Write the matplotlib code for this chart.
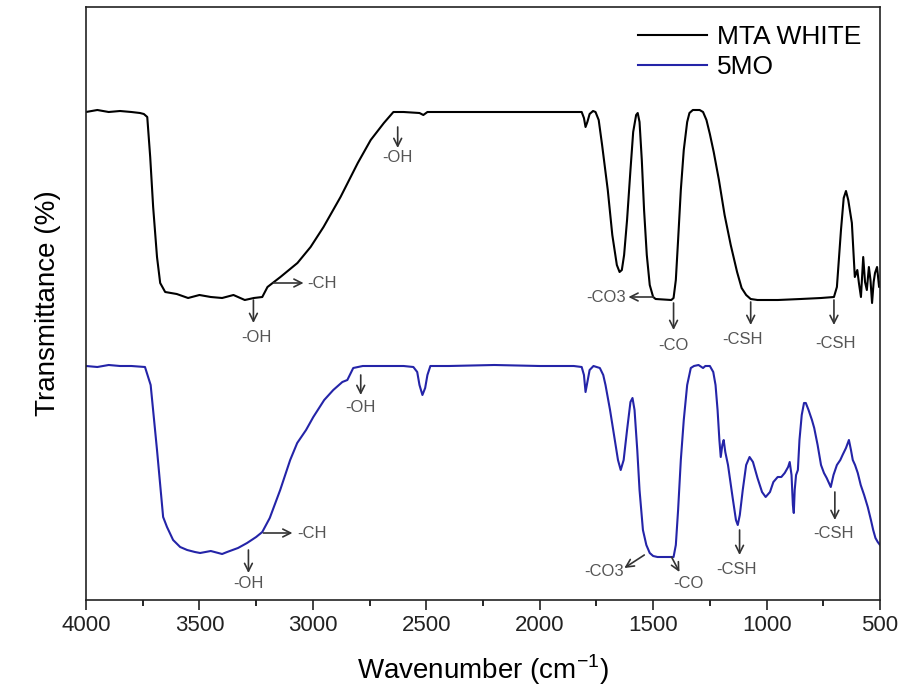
import matplotlib
matplotlib.use("Agg")
import matplotlib.pyplot as plt
from matplotlib.ticker import MultipleLocator

plt.rcParams['font.family'] = ['Liberation Sans', 'DejaVu Sans']

# ---- data: wavenumber (cm-1) and transmittance (arbitrary units) ----
mta_wn = [4000, 3950, 3900, 3850, 3800, 3762, 3745, 3730, 3717, 3704, 3687, 3673, 3651,
          3600, 3550, 3500, 3450, 3400, 3350, 3300, 3260, 3223, 3200, 3143, 3068, 3010,
          2953, 2878, 2802, 2745, 2687, 2645, 2600, 2530, 2513, 2495, 2400, 2200, 2000,
          1850, 1815, 1805, 1798, 1790, 1780, 1765, 1754, 1740, 1725, 1700, 1680, 1660,
          1648, 1638, 1628, 1615, 1600, 1588, 1575, 1568, 1560, 1550, 1540, 1528, 1515,
          1500, 1489, 1420, 1410, 1400, 1390, 1378, 1365, 1350, 1340, 1325, 1295, 1280,
          1265, 1250, 1233, 1210, 1185, 1158, 1130, 1110, 1090, 1070, 1040, 950, 850,
          760, 703, 690, 672, 660, 650, 640, 624, 611, 600, 593, 584, 574, 566, 558, 549,
          542, 535, 528, 522, 513, 504, 500]
mta_t = [488, 490, 488, 489, 488, 487, 486, 483, 443, 393, 343, 317, 308,
         306, 302, 305, 303, 302, 305, 300, 302, 303, 313, 323, 337, 353,
         373, 403, 437, 460, 477, 488, 488, 487, 485, 488, 488, 488, 488,
         488, 488, 482, 473, 478, 486, 489, 488, 480, 455, 410, 365, 335,
         328, 330, 345, 380, 430, 468, 485, 487, 478, 440, 390, 345, 315,
         303, 301, 300, 302, 320, 360, 410, 450, 478, 487, 490, 490, 488,
         480, 466, 448, 420, 385, 355, 328, 312, 305, 301, 300, 300, 301,
         302, 303, 313, 370, 402, 409, 400, 377, 323, 330, 317, 303, 343, 318, 310, 333,
         320, 297, 318, 327, 333, 313, 318]

mo_wn = [4000, 3950, 3900, 3850, 3800, 3740, 3715, 3687, 3660, 3643, 3616, 3585, 3554,
         3520, 3497, 3450, 3400, 3378, 3330, 3290, 3250, 3223, 3190, 3144, 3100, 3069,
         3030, 2998, 2950, 2910, 2870, 2848, 2835, 2822, 2780, 2700, 2600, 2557, 2540,
         2530, 2517, 2505, 2495, 2482, 2400, 2200, 2000, 1850, 1815, 1805, 1798, 1790,
         1780, 1763, 1735, 1720, 1710, 1690, 1674, 1655, 1643, 1630, 1615, 1600, 1591,
         1582, 1570, 1560, 1545, 1530, 1515, 1500, 1481, 1410, 1400, 1390, 1378, 1365,
         1350, 1334, 1320, 1300, 1280, 1270, 1250, 1235, 1225, 1216, 1208, 1202, 1195,
         1189, 1182, 1170, 1150, 1135, 1127, 1118, 1105, 1090, 1075, 1060, 1040, 1020,
         1004, 985, 970, 951, 935, 920, 905, 898, 890, 884, 880, 876, 870, 862, 855,
         845, 835, 827, 815, 800, 790, 775, 760, 747, 735, 725, 717, 705, 690, 675,
         665, 650, 637, 628, 620, 610, 598, 585, 570, 554, 540, 530, 520, 510, 500]
mo_t = [234, 233, 235, 234, 234, 233, 215, 150, 83, 73, 60, 53, 50,
        48, 47, 49, 46, 48, 52, 57, 63, 68, 82, 110, 140, 157,
        170, 183, 200, 210, 218, 220, 226, 232, 234, 234, 234, 233, 228,
        215, 205, 212, 225, 234, 234, 235, 234, 234, 233, 225, 208, 218,
        230, 234, 232, 225, 215, 190, 167, 140, 130, 140, 170, 198, 202,
        190, 150, 110, 70, 55, 47, 44, 43, 43, 55, 90, 140, 180,
        215, 232, 234, 235, 232, 234, 234, 228, 215, 190, 160, 143, 155,
        160, 148, 135, 103, 80, 75, 85, 110, 135, 143, 138, 122, 108,
        103, 108, 118, 123, 123, 127, 133, 138, 125, 95, 87, 110, 125, 130, 160,
        185, 197, 197, 190, 180, 172, 155, 135, 127, 122, 117, 113, 125, 135, 140,
        145, 152, 160, 150, 140, 135, 127, 115, 105, 93, 80, 70, 62, 58, 55]

series_labels = ["MTA WHITE", "5MO"]
x_ticks = [4000, 3500, 3000, 2500, 2000, 1500, 1000, 500]

# annotations: (label, arrow tail (wn, T), arrow head (wn, T), text pos (wn, T), ha, va)
annotations = [
    ("-OH",  (3262, 300), (3262, 277), (3249, 263), "center", "center"),
    ("-CH",  (3174, 317), (3041, 317), (3023, 317), "left", "center"),
    ("-OH",  (2626, 473), (2626, 452), (2626, 443), "center", "center"),
    ("-CO3", (1499, 303), (1609, 303), (1620, 303), "right", "center"),
    ("-CO",  (1410, 297), (1410, 270), (1410, 255), "center", "center"),
    ("-CSH", (1070, 298), (1070, 275), (1106, 260), "center", "center"),
    ("-CSH", (703, 300), (703, 275), (695, 257), "center", "center"),
    ("-OH",  (3284, 50), (3284, 27), (3284, 17), "center", "center"),
    ("-CH",  (3218, 67), (3090, 67), (3068, 67), "left", "center"),
    ("-OH",  (2789, 225), (2789, 205), (2789, 193), "center", "center"),
    ("-CO3", (1539, 45), (1627, 32), (1631, 28), "right", "center"),
    ("-CO",  (1419, 43), (1384, 28), (1344, 17), "center", "center"),
    ("-CSH", (1119, 70), (1119, 45), (1132, 30), "center", "center"),
    ("-CSH", (699, 108), (699, 80), (703, 67), "center", "center"),
]

fig = plt.figure(figsize=(9.04, 6.99), dpi=100)
ax = fig.add_axes([86/904, 1-600/699, (880-86)/904, (600-7)/699])

ax.plot(mta_wn, mta_t, color="black", lw=1.5, label=series_labels[0])
ax.plot(mo_wn, mo_t, color="#2424a8", lw=1.5, label=series_labels[1])

ax.set_xlim(4000, 500)
ax.set_ylim(0, 593)
ax.set_xticks(x_ticks)
ax.xaxis.set_minor_locator(MultipleLocator(250))
ax.set_yticks([])
ax.tick_params(axis='x', which='major', direction='out', length=7, width=1.2,
               labelsize=16, pad=4, colors='#222222')
ax.tick_params(axis='x', which='minor', direction='out', length=4, width=1.2)
for s in ax.spines.values():
    s.set_linewidth(1.2)
    s.set_color('#222222')

ax.set_xlabel("Wavenumber (cm$^{\\mathregular{-1}}$)", fontsize=20, labelpad=12)
ax.set_ylabel("Transmittance (%)", fontsize=20, labelpad=18)

for lab, tail, head, tpos, ha, va in annotations:
    ax.annotate("", xy=head, xytext=tail,
                arrowprops=dict(arrowstyle="->", color="#333333", lw=1.2,
                                mutation_scale=14, shrinkA=0, shrinkB=0))
    ax.text(tpos[0], tpos[1], lab, fontsize=12, color="#555555", ha=ha, va=va)

leg = ax.legend(loc="upper right", bbox_to_anchor=(1.0, 1.0), frameon=False,
                fontsize=19, handlelength=2.6, handletextpad=0.4, labelspacing=0.2,
                borderaxespad=0.3)

fig.savefig("out.png", dpi=100)
